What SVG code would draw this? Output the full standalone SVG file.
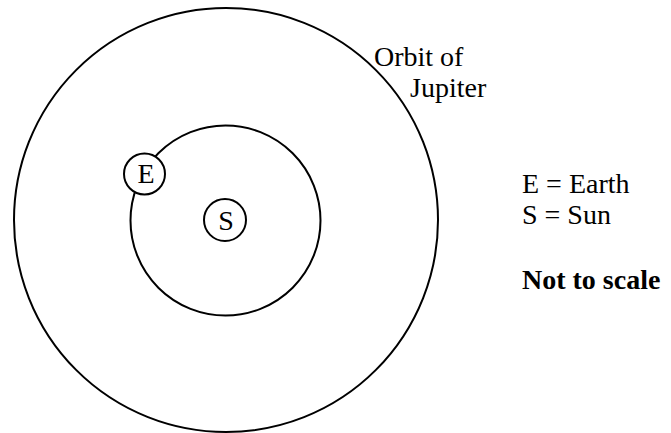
<svg xmlns="http://www.w3.org/2000/svg" width="671" height="433" viewBox="0 0 671 433">
<style>
.orb{fill:none;stroke:#000;stroke-width:2}
.body{fill:#fff;stroke:#000;stroke-width:2}
.t{font-family:"Liberation Serif","Times New Roman",serif;font-size:28px;fill:#000}
.b{font-weight:bold}
</style>
<rect width="671" height="433" fill="#fff"/>
<g id="jupiter-orbit">
<circle class="orb" cx="226" cy="220" r="212"/>
<text class="t" x="374" y="66">Orbit of</text>
<text class="t" x="410" y="97">Jupiter</text>
</g>
<g id="earth-orbit">
<circle class="orb" cx="225.5" cy="220.5" r="95"/>
</g>
<g id="sun">
<circle class="body" cx="225" cy="220" r="21"/>
<text class="t" x="226" y="229.5" text-anchor="middle">S</text>
</g>
<g id="earth">
<circle class="body" cx="144.5" cy="174" r="20.5"/>
<text class="t" x="146" y="183" text-anchor="middle">E</text>
</g>
<g id="legend">
<text class="t" x="522" y="193">E = Earth</text>
<text class="t" x="522" y="224">S = Sun</text>
<text class="t b" x="522" y="289">Not to scale</text>
</g>
</svg>
